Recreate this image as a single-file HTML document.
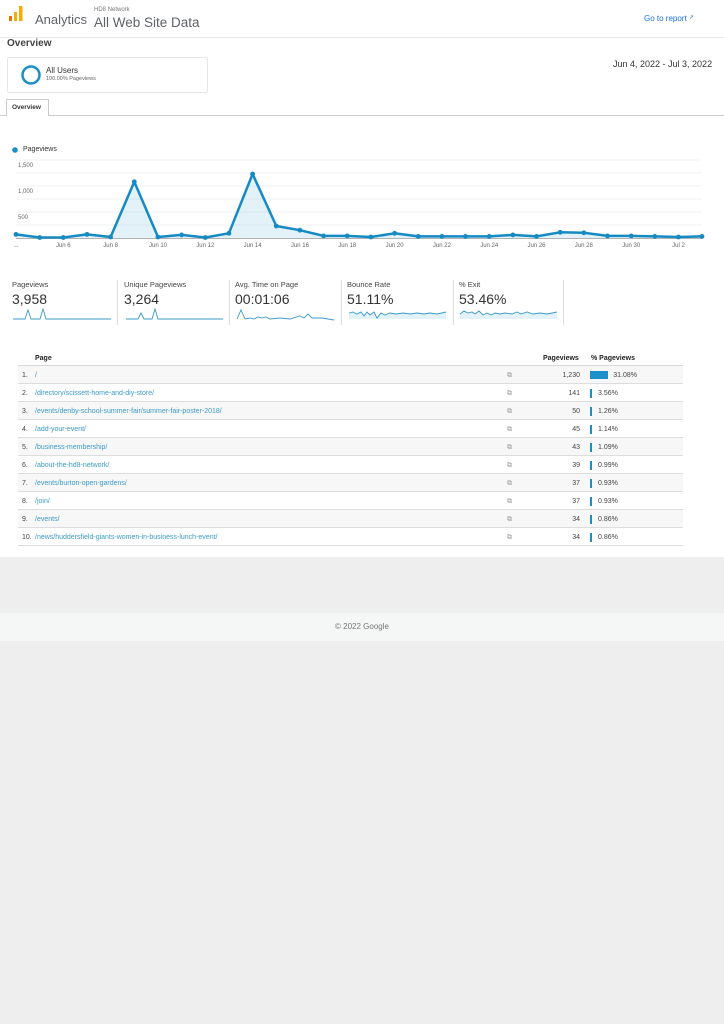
<!DOCTYPE html>
<html><head><meta charset="utf-8"><style>
*{margin:0;padding:0;box-sizing:border-box}
body{width:724px;height:1024px;background:#eeeeee;font-family:"Liberation Sans",sans-serif;position:relative;overflow:hidden;color:#333}
.a{position:absolute;white-space:nowrap}
#page{position:absolute;left:0;top:0;width:724px;height:557px;background:#fff}
.row{position:absolute;left:18px;width:665px;height:18px;border-bottom:1px solid #ddd;font-size:7px;line-height:19px}
.row.g{background:#f7f7f7}
.row .n{position:absolute;left:4px;color:#444}
.row .p{position:absolute;left:17px;color:#3a9bc8}
.row .ic{position:absolute;left:489px;color:#999;font-size:7px}
.row .v{position:absolute;right:103px;color:#444}
.row .b{position:absolute;left:572px;top:5px;height:9px;width:1.5px;background:#1a8fc9}
.row .pc{position:absolute;left:580px;color:#444}
.mt{font-size:7.5px;color:#444}
.mv{font-size:14px;color:#333}
</style></head><body>
<div id="page">
<svg class="a" style="left:0;top:0" width="724" height="557">
 <rect x="9" y="16" width="3" height="5" fill="#e37400"/>
 <rect x="14" y="12" width="3" height="9" fill="#f9ab00"/>
 <rect x="19" y="6" width="3.5" height="15" fill="#f9ab00"/>
 <line x1="0" y1="37.5" x2="724" y2="37.5" stroke="#e8e8e8"/>
 <rect x="7.5" y="57.5" width="200" height="35" rx="2" fill="#fff" stroke="#e5e5e5"/>
 <circle cx="31" cy="75" r="8.5" fill="none" stroke="#1a8fc9" stroke-width="2.5"/>
 <line x1="0" y1="115.5" x2="724" y2="115.5" stroke="#ccc"/>
 <path d="M6.5 116 V99.5 H48.5 V116" fill="#fff" stroke="#ccc"/>
 <circle cx="15" cy="150" r="2.8" fill="#1a8fc9"/>
 <g stroke="#eee" stroke-width="0.8">
  <line x1="16" y1="160" x2="702" y2="160"/><line x1="16" y1="173" x2="702" y2="173"/>
  <line x1="16" y1="186" x2="702" y2="186"/><line x1="16" y1="199" x2="702" y2="199"/>
  <line x1="16" y1="212" x2="702" y2="212"/><line x1="16" y1="225" x2="702" y2="225"/>
 </g>
 <polygon fill="#1a8fc9" fill-opacity="0.12" points="16,238 16,234.4 39.7,237.5 63.3,237.5 87,234.4 110.6,237 134.3,181.8 158,237 181.6,234.9 205.3,237.5 228.9,233.3 252.6,174 276.3,226 299.9,230.2 323.6,235.9 347.2,235.9 370.9,237 394.6,233.3 418.2,236.4 441.9,236.4 465.5,236.4 489.2,236.4 512.9,234.9 536.5,236.4 560.2,232.3 583.8,232.8 607.5,235.9 631.2,235.9 654.8,236.4 678.5,237 702,236.4 702,238"/>
 <line x1="16" y1="238.5" x2="702" y2="238.5" stroke="#999" stroke-width="0.8"/>
 <polyline fill="none" stroke="#168ac2" stroke-width="2.5" stroke-linejoin="round" points="16,234.4 39.7,237.5 63.3,237.5 87,234.4 110.6,237 134.3,181.8 158,237 181.6,234.9 205.3,237.5 228.9,233.3 252.6,174 276.3,226 299.9,230.2 323.6,235.9 347.2,235.9 370.9,237 394.6,233.3 418.2,236.4 441.9,236.4 465.5,236.4 489.2,236.4 512.9,234.9 536.5,236.4 560.2,232.3 583.8,232.8 607.5,235.9 631.2,235.9 654.8,236.4 678.5,237 702,236.4"/>
 <g fill="#168ac2">
  <circle cx="16" cy="234.4" r="2.4"/><circle cx="39.7" cy="237.5" r="2.4"/><circle cx="63.3" cy="237.5" r="2.4"/><circle cx="87" cy="234.4" r="2.4"/><circle cx="110.6" cy="237" r="2.4"/><circle cx="134.3" cy="181.8" r="2.4"/><circle cx="158" cy="237" r="2.4"/><circle cx="181.6" cy="234.9" r="2.4"/><circle cx="205.3" cy="237.5" r="2.4"/><circle cx="228.9" cy="233.3" r="2.4"/><circle cx="252.6" cy="174" r="2.4"/><circle cx="276.3" cy="226" r="2.4"/><circle cx="299.9" cy="230.2" r="2.4"/><circle cx="323.6" cy="235.9" r="2.4"/><circle cx="347.2" cy="235.9" r="2.4"/><circle cx="370.9" cy="237" r="2.4"/><circle cx="394.6" cy="233.3" r="2.4"/><circle cx="418.2" cy="236.4" r="2.4"/><circle cx="441.9" cy="236.4" r="2.4"/><circle cx="465.5" cy="236.4" r="2.4"/><circle cx="489.2" cy="236.4" r="2.4"/><circle cx="512.9" cy="234.9" r="2.4"/><circle cx="536.5" cy="236.4" r="2.4"/><circle cx="560.2" cy="232.3" r="2.4"/><circle cx="583.8" cy="232.8" r="2.4"/><circle cx="607.5" cy="235.9" r="2.4"/><circle cx="631.2" cy="235.9" r="2.4"/><circle cx="654.8" cy="236.4" r="2.4"/><circle cx="678.5" cy="237" r="2.4"/><circle cx="702" cy="236.4" r="2.4"/>
 </g>
 <g font-family="Liberation Sans" font-size="6" fill="#666" text-anchor="middle">
  <text x="16" y="247">...</text><text x="63.3" y="247">Jun 6</text><text x="110.6" y="247">Jun 8</text><text x="158" y="247">Jun 10</text><text x="205.3" y="247">Jun 12</text><text x="252.6" y="247">Jun 14</text><text x="299.9" y="247">Jun 16</text><text x="347.2" y="247">Jun 18</text><text x="394.6" y="247">Jun 20</text><text x="441.9" y="247">Jun 22</text><text x="489.2" y="247">Jun 24</text><text x="536.5" y="247">Jun 26</text><text x="583.8" y="247">Jun 28</text><text x="631.2" y="247">Jun 30</text><text x="678.5" y="247">Jul 2</text>
 </g>
 <g font-family="Liberation Sans" font-size="6" fill="#666">
  <text x="18" y="167">1,500</text><text x="18" y="193">1,000</text><text x="18" y="219">500</text>
 </g>
 <g stroke="#ddd"><line x1="117.5" y1="280" x2="117.5" y2="325"/><line x1="229.5" y1="280" x2="229.5" y2="325"/><line x1="341.5" y1="280" x2="341.5" y2="325"/><line x1="453.5" y1="280" x2="453.5" y2="325"/><line x1="563.5" y1="280" x2="563.5" y2="325"/></g>
 <g fill="none" stroke="#3a9bc8" stroke-width="0.9">
  <polyline points="13,319 25,319 28,310 31,319 40,319 43,309 46,319 111,319"/>
  <polyline points="126,319 138,319 141,313 144,319 152,319 155,309 158,319 223,319"/>
  <polyline points="237,319 241,310 245,319 250,318 254,319 258,317 262,318 266,317 270,319 280,318 290,319 300,316 304,318 308,314 312,318 322,318 334,320"/>
  <polyline points="349,313 353,312 357,314 361,312 364,316 367,312 370,315 374,312 377,318 381,313 385,315 390,313 396,314 403,313 410,314 417,313 424,314 430,313 437,314 446,312"/>
  <polyline points="460,314 464,311 468,313 472,312 475,314 479,311 483,315 487,313 491,315 495,313 500,314 505,313 512,314 517,312 521,314 527,312 533,314 540,313 547,314 557,312"/>
 </g>
 <g fill="#1a8fc9" fill-opacity="0.12">
  <polygon points="349,313 353,312 357,314 361,312 364,316 367,312 370,315 374,312 377,318 381,313 385,315 390,313 396,314 403,313 410,314 417,313 424,314 430,313 437,314 446,312 446,319 349,319"/>
  <polygon points="460,314 464,311 468,313 472,312 475,314 479,311 483,315 487,313 491,315 495,313 500,314 505,313 512,314 517,312 521,314 527,312 533,314 540,313 547,314 557,312 557,319 460,319"/>
 </g>
 <line x1="18" y1="366" x2="683" y2="366" stroke="#999" stroke-width="0.8"/>
</svg>
<div class="a" style="left:35px;top:12px;font-size:13px;color:#5f6368">Analytics</div>
<div class="a" style="left:94px;top:7px;font-size:6px;color:#777">HD8 Network</div>
<div class="a" style="left:94px;top:15px;font-size:13.5px;color:#5f6368">All Web Site Data</div>
<div class="a" style="left:644px;top:14px;font-size:8px;color:#1a73e8">Go to report <span style="font-size:6px;vertical-align:2px">&#x2197;</span></div>
<div class="a" style="left:7px;top:38px;font-size:10px;font-weight:bold;color:#444">Overview</div>
<div class="a" style="left:46px;top:66px;font-size:8px;color:#333">All Users</div>
<div class="a" style="left:46px;top:76px;font-size:5.5px;color:#666">100.00% Pageviews</div>
<div class="a" style="left:613px;top:59px;font-size:9px;color:#333">Jun 4, 2022 - Jul 3, 2022</div>
<div class="a" style="left:12px;top:104px;font-size:6.5px;font-weight:bold;color:#333">Overview</div>
<div class="a" style="left:23px;top:146px;font-size:7px;color:#333">Pageviews</div>

<div class="a mt" style="left:12px;top:280px">Pageviews</div><div class="a mv" style="left:12px;top:291px">3,958</div>
<div class="a mt" style="left:124px;top:280px">Unique Pageviews</div><div class="a mv" style="left:124px;top:291px">3,264</div>
<div class="a mt" style="left:235px;top:280px">Avg. Time on Page</div><div class="a mv" style="left:235px;top:291px">00:01:06</div>
<div class="a mt" style="left:347px;top:280px">Bounce Rate</div><div class="a mv" style="left:347px;top:291px">51.11%</div>
<div class="a mt" style="left:459px;top:280px">% Exit</div><div class="a mv" style="left:459px;top:291px">53.46%</div>

<div class="a" style="left:35px;top:355px;font-size:7px;font-weight:bold;color:#222">Page</div>
<div class="a" style="left:543px;top:355px;font-size:7px;font-weight:bold;color:#222">Pageviews</div>
<div class="a" style="left:591px;top:355px;font-size:7px;font-weight:bold;color:#222">% Pageviews</div>

<div class="row g" style="top:366px"><span class="n">1.</span><span class="p">/</span><span class="ic">&#x29c9;</span><span class="v">1,230</span><span class="b" style="width:18px;height:8px"></span><span class="pc" style="left:579px;width:40px;text-align:right">31.08%</span></div>
<div class="row" style="top:384px"><span class="n">2.</span><span class="p">/directory/scissett-home-and-diy-store/</span><span class="ic">&#x29c9;</span><span class="v">141</span><span class="b" style="width:2px"></span><span class="pc">3.56%</span></div>
<div class="row g" style="top:402px"><span class="n">3.</span><span class="p">/events/denby-school-summer-fair/summer-fair-poster-2018/</span><span class="ic">&#x29c9;</span><span class="v">50</span><span class="b"></span><span class="pc">1.26%</span></div>
<div class="row" style="top:420px"><span class="n">4.</span><span class="p">/add-your-event/</span><span class="ic">&#x29c9;</span><span class="v">45</span><span class="b"></span><span class="pc">1.14%</span></div>
<div class="row g" style="top:438px"><span class="n">5.</span><span class="p">/business-membership/</span><span class="ic">&#x29c9;</span><span class="v">43</span><span class="b"></span><span class="pc">1.09%</span></div>
<div class="row" style="top:456px"><span class="n">6.</span><span class="p">/about-the-hd8-network/</span><span class="ic">&#x29c9;</span><span class="v">39</span><span class="b"></span><span class="pc">0.99%</span></div>
<div class="row g" style="top:474px"><span class="n">7.</span><span class="p">/events/burton-open-gardens/</span><span class="ic">&#x29c9;</span><span class="v">37</span><span class="b"></span><span class="pc">0.93%</span></div>
<div class="row" style="top:492px"><span class="n">8.</span><span class="p">/join/</span><span class="ic">&#x29c9;</span><span class="v">37</span><span class="b"></span><span class="pc">0.93%</span></div>
<div class="row g" style="top:510px"><span class="n">9.</span><span class="p">/events/</span><span class="ic">&#x29c9;</span><span class="v">34</span><span class="b"></span><span class="pc">0.86%</span></div>
<div class="row" style="top:528px"><span class="n">10.</span><span class="p">/news/huddersfield-giants-women-in-business-lunch-event/</span><span class="ic">&#x29c9;</span><span class="v">34</span><span class="b"></span><span class="pc">0.86%</span></div>
</div>
<div class="a" style="left:0;top:613px;width:724px;height:28px;background:#f5f6f6"></div>
<div class="a" style="left:0;top:622px;width:724px;text-align:center;font-size:8px;color:#777">© 2022 Google</div>
</body></html>
